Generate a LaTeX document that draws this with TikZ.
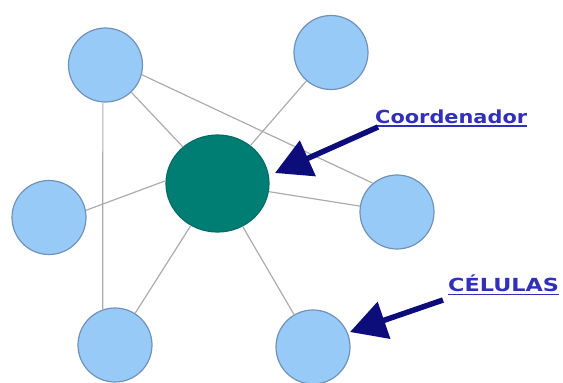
\documentclass[tikz,border=0pt]{standalone}
\usepackage{fontspec}
\setmainfont{DejaVu Sans}
\usetikzlibrary{arrows.meta,shapes.geometric}
\definecolor{cellfill}{RGB}{152,202,247}
\definecolor{celldraw}{RGB}{112,146,185}
\definecolor{coordfill}{RGB}{0,126,116}
\definecolor{coorddraw}{RGB}{0,108,102}
\definecolor{linkcol}{RGB}{172,172,172}
\definecolor{arrowcol}{RGB}{12,12,122}
\definecolor{labelcol}{RGB}{48,48,185}
\begin{document}
\begin{tikzpicture}[x=1pt,y=-1pt,
  cell/.style={circle,draw=celldraw,fill=cellfill,line width=1.2pt,minimum size=74pt,inner sep=0pt},
  coordnode/.style={ellipse,draw=coorddraw,fill=coordfill,line width=1.2pt,minimum width=103pt,minimum height=97pt,inner sep=0pt},
  link/.style={draw=linkcol,line width=1.2pt},
  pointer/.style={draw=arrowcol,line width=5.5pt,-{Triangle[length=36pt,width=38pt]}},
  lbl/.style={text=labelcol,font=\bfseries\fontsize{18}{18}\selectfont,inner sep=0pt,anchor=base west},
  uline/.style={draw=labelcol,line width=1.5pt}]
\useasboundingbox (0,0) rectangle (563,383);
\node[cell] (TL) at (105.5,65) {};
\node[cell] (TR) at (331,52.5) {};
\node[cell] (L) at (49,217.5) {};
\node[cell] (R) at (397,212) {};
\node[cell] (BL) at (115,345) {};
\node[cell] (BR) at (313,347) {};
\node[coordnode] (C) at (217.5,183.5) {};
\draw[link] (TL.266) -- (BL.109);
\draw[link] (TL.345) -- (R.130);
\draw[link] (TL) -- (C);
\draw[link] (L.11) -- (C.177);
\draw[link] (C) -- (TR);
\draw[link] (C) -- (R);
\draw[link] (C) -- (BL);
\draw[link] (C) -- (BR);
\node[lbl] (lab1) at (375,123) {\scalebox{1.16}[1]{Coordenador}};
\node[lbl] (lab2) at (448,291) {\scalebox{1.24}[1]{CÉLULAS}};
\draw[uline] ([yshift=-3pt]lab1.base west) -- ([yshift=-3pt]lab1.base east);
\draw[uline] ([yshift=-3.5pt]lab2.base west) -- ([yshift=-3.5pt]lab2.base east);
\coordinate (tail1) at (378,127);
\coordinate (tip1) at (275,173);
\coordinate (tail2) at (443,300);
\coordinate (tip2) at (350,332);
\draw[pointer] (tail1) -- (tip1);
\draw[pointer] (tail2) -- (tip2);
\end{tikzpicture}
\end{document}
